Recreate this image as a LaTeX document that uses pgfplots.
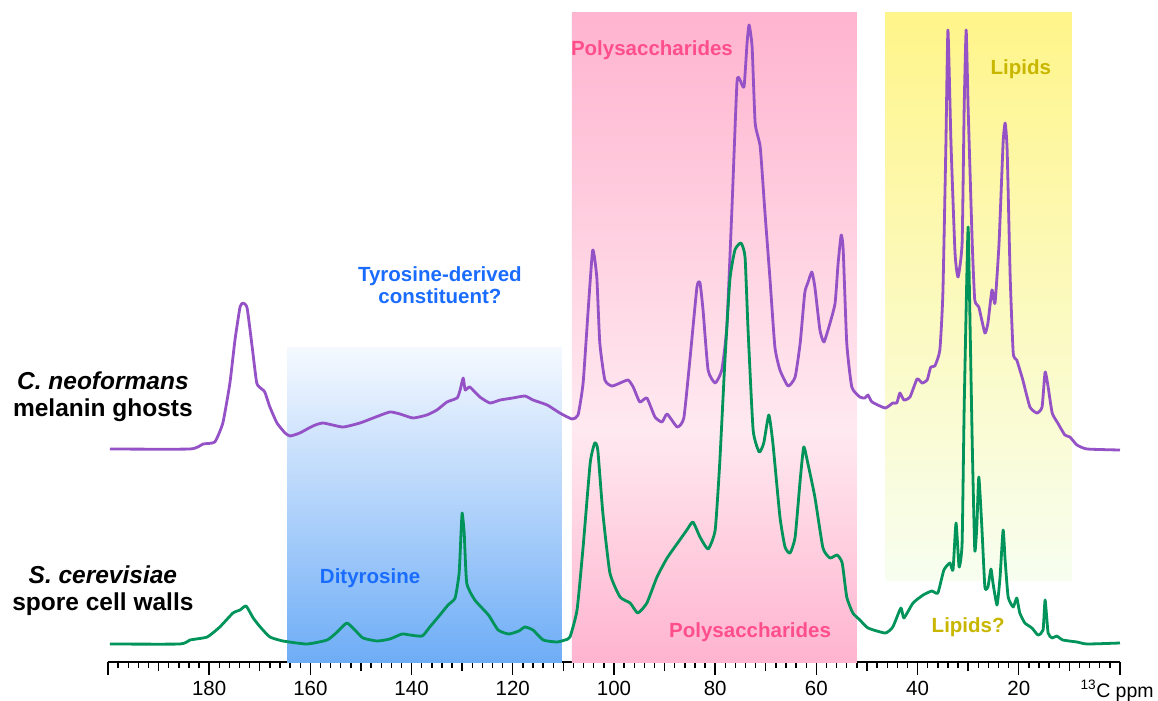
\documentclass[border=0pt]{standalone}
\usepackage{pgfplots}
\pgfplotsset{compat=1.18}
\usepackage{fontspec}
\setmainfont{Liberation Sans}
\definecolor{cpurple}{HTML}{9452C6}
\definecolor{cgreen}{HTML}{00935A}
\definecolor{cpinktext}{HTML}{FF4F8B}
\definecolor{cbluetext}{HTML}{1A6CFF}
\definecolor{colive}{HTML}{C8B600}
\definecolor{pinkA}{HTML}{FFB4CF}
\definecolor{pinkL}{HTML}{FFE9F0}
\definecolor{blueT}{HTML}{F5F9FF}
\definecolor{blueM}{HTML}{D2E5FB}
\definecolor{blueB}{HTML}{6EADF6}
\definecolor{yelT}{HTML}{FFF58A}
\definecolor{yelM}{HTML}{FFFBDA}
\definecolor{yelB}{HTML}{F8FEF0}
\begin{document}
\begin{tikzpicture}
\begin{axis}[
  scale only axis, width=1012pt, height=649pt,
  x dir=reverse, xmin=0, xmax=200, ymin=38, ymax=687,
  enlargelimits=false, clip=false,
  axis x line=bottom, axis y line=none,
  axis line style={-, line width=1.8pt},
  tick align=outside,
  xtick={0,20,...,200},
  xticklabels={{},20,40,60,80,100,120,140,160,180,{}},
  minor xtick={0,2,...,200},
  major tick length=13pt, minor tick length=6pt,
  every tick/.style={black, line width=1.4pt},
  extra x ticks={10,30,...,190},
  extra x tick labels={},
  extra x tick style={major tick length=9pt},
  xticklabel style={font=\fontsize{20.5}{24}\selectfont, inner sep=1pt, yshift=-5pt},
]
\coordinate (BL) at (axis cs:221.34,0);
\coordinate (TR) at (axis cs:-7.51,700);
% shaded regions
\shade[top color=blueT, middle color=blueM, bottom color=blueB] (axis cs:164.6,38) rectangle (axis cs:110.3,352);
\shade[top color=pinkA, bottom color=pinkL] (axis cs:108.3,270) rectangle (axis cs:52.0,687);
\shade[top color=pinkL, bottom color=pinkA] (axis cs:108.3,38) rectangle (axis cs:52.0,270.5);
\shade[top color=yelT, middle color=yelM, bottom color=yelB] (axis cs:46.4,120) rectangle (axis cs:9.5,687);

\addplot[cpurple, line width=2.8pt, smooth, tension=0.3, line join=round] table {
x y
199.6 251
183.8 251
181.2 256
178.9 258
177.3 277
175.9 317
174.9 360
173.9 393
173.3 397
172.5 392
171.5 353
170.6 317
169.6 311
169.0 308
168.0 293
166.6 277
165.0 267
164.0 264
162.1 267
159.5 274
157.5 277
153.6 273
150.2 277
147.6 282
144.3 288
142.3 286
139.7 282
137.0 285
135.0 290
133.0 298
131.0 302
130.4 310
129.8 322
129.4 310
128.5 313
126.5 303
124.5 297
122.5 300
120.0 302
117.6 304
116.0 300
113.2 295
110.7 287
108.3 281
107.1 285
106.1 317
105.1 390
104.2 450
103.4 423
102.8 357
101.8 320
100.4 314
98.8 317
97.2 320
96.2 313
94.9 298
93.5 302
91.9 283
90.5 278
89.5 286
87.5 273
86.2 282
85.0 340
83.6 413
83.0 417
82.4 390
81.4 330
80.0 317
78.7 330
77.7 373
76.7 490
75.7 617
75.1 620
74.3 613
73.7 657
73.3 675
72.7 653
72.1 577
71.1 553
70.2 490
69.2 423
68.2 353
67.2 330
65.6 314
64.2 323
63.2 357
62.3 407
61.7 417
60.9 428
60.3 413
59.3 370
58.5 358
57.3 377
56.3 397
55.7 437
55.1 465
54.7 450
54.0 357
53.0 313
51.4 303
50.4 302
49.8 305
49.0 298
46.4 292
44.9 297
44.1 297
43.5 307
42.7 300
41.5 303
40.1 321
39.1 317
38.1 320
37.4 333
36.6 334
35.6 350
35.0 407
34.4 557
34.0 670
33.4 557
32.6 447
32.0 423
31.2 457
30.8 590
30.4 670
30.0 590
29.2 457
28.7 400
27.9 393
26.7 367
26.1 377
25.3 410
24.7 397
23.9 457
23.1 557
22.7 577
22.3 550
21.7 423
21.1 347
20.4 340
19.2 320
17.8 293
16.4 287
15.4 293
14.8 328
14.2 313
13.4 287
12.3 277
10.9 265
9.9 263
8.5 255
6.5 251
0.0 250
};

\addplot[cgreen, line width=2.8pt, smooth, tension=0.3, line join=round] table {
x y
199.6 56
185.8 56
183.8 60
180.4 63
177.9 73
175.3 87
173.9 90
172.7 94
171.3 82
169.9 73
168.0 63
165.4 59
160.7 56
156.7 60
154.7 68
152.8 77
151.2 70
149.6 62
146.8 59
144.3 61
141.9 66
140.3 65
137.9 64
136.4 73
134.4 85
132.8 95
131.4 102
130.6 127
130.2 170
130.0 187
129.6 167
129.1 117
127.5 100
124.8 85
122.9 70
120.8 66
118.8 69
117.6 73
116.0 70
114.0 60
111.3 58
109.7 60
108.7 63
107.3 90
106.1 153
104.7 237
103.8 257
103.2 250
102.2 187
100.8 127
98.8 103
96.8 97
95.3 87
93.5 97
91.5 123
89.5 142
87.0 160
85.6 170
84.4 178
83.0 163
81.4 151
80.0 170
79.1 237
78.1 337
77.1 420
76.1 450
74.9 457
74.1 443
73.5 370
72.5 270
71.3 248
70.4 257
69.4 285
68.6 257
67.2 183
66.2 153
65.2 147
64.2 163
63.2 220
62.5 253
61.7 237
60.3 203
58.7 152
57.3 142
55.9 145
54.9 137
54.0 103
52.8 87
51.4 80
49.8 72
46.4 67
44.9 73
43.3 92
42.7 82
40.9 97
38.9 105
37.2 109
36.0 107
34.8 130
33.6 137
33.0 130
32.4 177
31.8 133
31.2 157
30.8 290
30.2 440
30.0 473
29.8 423
29.2 257
28.7 150
28.3 173
27.9 223
27.3 173
26.7 113
26.1 113
25.5 131
25.1 117
24.3 95
23.7 123
23.1 170
22.7 140
22.1 103
21.1 93
20.4 102
19.8 87
18.8 77
17.4 72
16.2 65
15.2 70
14.8 100
14.2 67
13.4 62
12.5 64
11.3 60
8.5 58
6.5 56
0.0 57
};

% labels
\node[align=center, font=\fontsize{24.5}{27}\selectfont\bfseries] at (axis cs:201.0,303) {\textit{C. neoformans}\\melanin ghosts};
\node[align=center, font=\fontsize{24.5}{27}\selectfont\bfseries] at (axis cs:201.0,109) {\textit{S. cerevisiae}\\spore cell walls};
\node[font=\fontsize{20.5}{24}\selectfont\bfseries, text=cpinktext] at (axis cs:92.5,650) {Polysaccharides};
\node[font=\fontsize{20.5}{24}\selectfont\bfseries, text=colive] at (axis cs:19.6,631) {Lipids};
\node[align=center, font=\fontsize{20.5}{22.5}\selectfont\bfseries, text=cbluetext] at (axis cs:134.4,415) {Tyrosine-derived\\constituent?};
\node[font=\fontsize{20.5}{24}\selectfont\bfseries, text=cbluetext] at (axis cs:148.2,122) {Dityrosine};
\node[font=\fontsize{20.5}{24}\selectfont\bfseries, text=cpinktext] at (axis cs:73.1,68) {Polysaccharides};
\node[font=\fontsize{20.5}{24}\selectfont\bfseries, text=colive] at (axis cs:30.0,73) {Lipids?};
\node[font=\fontsize{19.5}{23}\selectfont, anchor=base east, inner sep=0pt] at (axis cs:-6.7,3) {$^{\mathrm{13}}$C ppm};
\end{axis}
\pgfresetboundingbox
\useasboundingbox (BL) rectangle (TR);
\end{tikzpicture}
\end{document}
